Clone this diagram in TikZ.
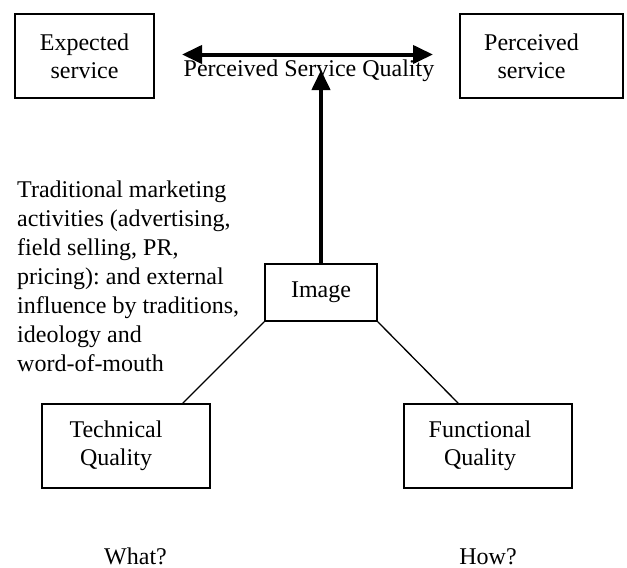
\documentclass[tikz,border=0pt]{standalone}
\usepackage{fontspec}
\setmainfont{Liberation Serif}
\usetikzlibrary{arrows.meta}
\frenchspacing
\begin{document}
\begin{tikzpicture}[x=1pt,y=-1pt,
    every node/.style={font=\fontsize{24}{28}\selectfont},
    box/.style={draw, line width=1.6pt, inner sep=0pt},
    boxtext/.style={align=center, inner sep=0pt},
    bigarrow/.style={line width=4pt, -{Triangle[length=20pt,width=18pt]}},
    link/.style={line width=1.3pt}]
    % Frame
    \useasboundingbox (0,0) rectangle (627,568);

    % Define boxes
    \node[box, boxtext, minimum width=139pt, minimum height=84pt] (expected) at (84.5,56) {Expected\\service};
    \node[box, minimum width=163pt, minimum height=84pt] (perceived) at (541.5,56) {};
    \node[box, boxtext, minimum width=112pt, minimum height=57pt] (image) at (321,292.5) {Image};
    \node[box, minimum width=168pt, minimum height=84pt] (technical) at (126,446) {};
    \node[box, minimum width=168pt, minimum height=84pt] (functional) at (488,446) {};

    % Box texts set off to the left
    \node[boxtext] (perceivedtext) at ([xshift=-10pt]perceived.center) {Perceived\\service};
    \node[boxtext] (technicaltext) at ([xshift=-10pt]technical.center) {Technical\\Quality};
    \node[boxtext] (functionaltext) at ([xshift=-8pt]functional.center) {Functional\\Quality};

    % Define points
    \coordinate (psqleft) at (182,54.5);
    \coordinate (psqright) at (433,54.5);
    \coordinate (psqtip) at (321,70);

    % Draw arrows
    \draw[bigarrow, {Triangle[length=20pt,width=18pt]}-{Triangle[length=20pt,width=18pt]}] (psqleft) -- (psqright);
    \draw[bigarrow] (image.north) -- (psqtip);

    % Draw links
    \draw[link] (image.south west) -- ([xshift=-28pt]technical.north east);
    \draw[link] (image.south east) -- ([xshift=55pt]functional.north west);

    % Label points
    \node[anchor=base] (psq) at (309,76) {Perceived Service Quality};
    \node[anchor=north west, align=left, inner sep=0pt,
          font=\fontsize{24}{29}\selectfont] (marketing) at (17,180.5)
        {Traditional marketing\\activities (advertising,\\field selling, PR,\\pricing): and external\\influence by traditions,\\ideology and\\word-of-mouth};
    \node[anchor=base] (what) at (135.5,564) {What?};
    \node[anchor=base] (how) at (488,564) {How?};
\end{tikzpicture}
\end{document}
